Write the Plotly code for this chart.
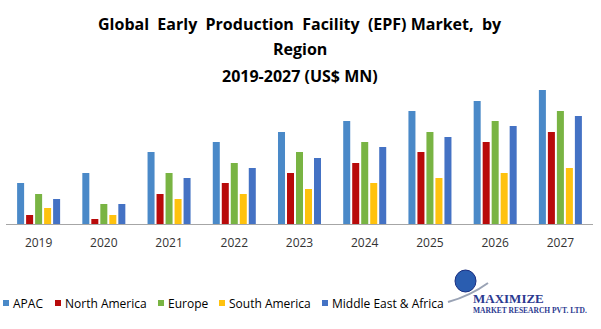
import plotly.graph_objects as go

years = ["2019", "2020", "2021", "2022", "2023", "2024", "2025", "2026", "2027"]
series_names = ["APAC", "North America", "Europe", "South America", "Middle East & Africa"]
apac = [4.1, 5.1, 7.2, 8.2, 9.2, 10.3, 11.3, 12.3, 13.4]
north_america = [0.9, 0.5, 3.0, 4.1, 5.1, 6.1, 7.2, 8.2, 9.2]
europe = [3.0, 2.0, 5.1, 6.1, 7.2, 8.2, 9.2, 10.3, 11.3]
south_america = [1.6, 0.9, 2.5, 3.0, 3.5, 4.1, 4.6, 5.1, 5.6]
middle_east_africa = [2.5, 2.0, 4.6, 5.6, 6.6, 7.7, 8.7, 9.8, 10.8]
values = [apac, north_america, europe, south_america, middle_east_africa]
colors = ["#4A89C8", "#B80A0A", "#79B443", "#FFC20E", "#4472C4"]

fig = go.Figure()
for name, vals, col in zip(series_names, values, colors):
    fig.add_trace(go.Bar(x=years, y=vals, name=name, marker_color=col,
                         marker_line_width=0, showlegend=False))

fig.update_layout(
    width=601, height=329,
    margin=dict(l=6, r=8, t=84, b=105),
    paper_bgcolor="white", plot_bgcolor="white",
    barmode="group", bargap=0.31, bargroupgap=0.22,
    font=dict(family="Open Sans", color="#404040"),
    xaxis=dict(showline=True, linecolor="#A6A6A6", linewidth=1, ticks="",
               tickfont=dict(size=12, color="#333333", family="Open Sans"),
               showgrid=False, ticklabelstandoff=8),
    yaxis=dict(range=[0, 14], visible=False, showgrid=False),
)

BASE = 224.0
H = 140.0
def py(ypx):
    return (BASE - ypx) / H
def px(xpx):
    return (xpx - 6) / 587

# Title lines
title_lines = [
    ("Global  Early  Production  Facility  (EPF) Market,  by", 24),
    ("Region", 49),
    ("2019-2027 (US$ MN)", 76),
]
for txt, ypx in title_lines:
    fig.add_annotation(text="<b>%s</b>" % txt, xref="paper", yref="paper",
                       x=px(300), y=py(ypx),
                       xanchor="center", yanchor="middle", showarrow=False,
                       font=dict(size=16, family="Open Sans", color="black"))

# Legend (manual)
leg_sq_x = [3, 55, 158, 219, 322]
leg_y = 303
for name, col, sx in zip(series_names, colors, leg_sq_x):
    fig.add_shape(type="rect", xref="paper", yref="paper",
                  x0=px(sx), x1=px(sx + 6),
                  y0=py(leg_y + 3), y1=py(leg_y - 3),
                  fillcolor=col, line_width=0)
    fig.add_annotation(text=name, xref="paper", yref="paper",
                       x=px(sx + 8), y=py(leg_y),
                       xanchor="left", yanchor="middle", showarrow=False,
                       font=dict(size=12, family="Open Sans", color="black"))

# Logo
fig.add_shape(type="circle", xref="paper", yref="paper",
              x0=px(455), x1=px(476), y0=py(292), y1=py(270),
              fillcolor="#2A5DB0", line=dict(color="#1A2E80", width=1))
fig.add_shape(type="path", xref="paper", yref="paper",
              path="M %f,%f Q %f,%f %f,%f" % (px(448), py(302), px(470), py(296), px(488), py(283)),
              line=dict(color="#9AA3B5", width=2))
fig.add_annotation(text="<b>MAXIMIZE</b>", xref="paper", yref="paper",
                   x=px(471), y=py(298),
                   xanchor="left", yanchor="middle", showarrow=False,
                   font=dict(size=13, family="Liberation Serif", color="#2B3990"))
fig.add_annotation(text="<b>MARKET RESEARCH PVT. LTD.</b>", xref="paper", yref="paper",
                   x=px(471), y=py(310),
                   xanchor="left", yanchor="middle", showarrow=False,
                   font=dict(size=7.5, family="Liberation Serif", color="#2B3990"))

fig.write_html("out.html")
